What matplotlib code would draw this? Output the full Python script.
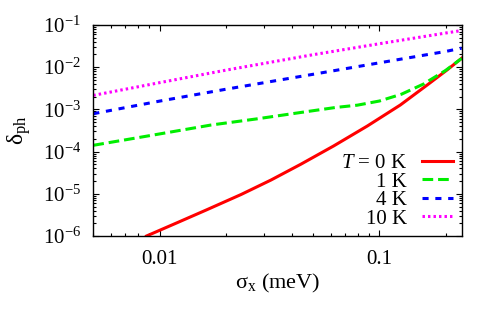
import matplotlib
matplotlib.use('Agg')
import matplotlib.pyplot as plt
from matplotlib.ticker import LogLocator, FixedLocator, NullFormatter

plt.rcParams['font.family'] = ['Liberation Serif', 'DejaVu Serif']
plt.rcParams['mathtext.fontset'] = 'custom'
plt.rcParams['mathtext.rm'] = 'Liberation Serif'
plt.rcParams['mathtext.it'] = 'Liberation Serif:italic'

# values (sigma_x in meV, delta_ph)
x_0K = [0.00873, 0.01194, 0.01631, 0.02349, 0.03213, 0.04385, 0.0619, 0.08816, 0.1244, 0.1648, 0.2029, 0.2366]
y_0K = [1.0e-6, 2.03e-6, 4.13e-6, 9.62e-6, 2.12e-5, 5.0e-5, 1.36e-4, 4.05e-4, 1.27e-3, 3.78e-3, 8.59e-3, 1.63e-2]

x_1K = [0.005, 0.0092, 0.01718, 0.02748, 0.04385, 0.0631, 0.0794, 0.1, 0.1259, 0.1585, 0.1995, 0.2366]
y_1K = [1.41e-4, 2.43e-4, 4.27e-4, 5.93e-4, 8.45e-4, 1.11e-3, 1.26e-3, 1.58e-3, 2.29e-3, 3.98e-3, 8.32e-3, 1.62e-2]

x_4K = [0.005, 0.01, 0.02, 0.05, 0.1, 0.2, 0.2366]
y_4K = [7.9e-4, 1.57e-3, 3.0e-3, 6.8e-3, 1.27e-2, 2.36e-2, 2.83e-2]

x_10K = [0.005, 0.01, 0.02, 0.05, 0.1, 0.2, 0.2366]
y_10K = [2.15e-3, 4.3e-3, 8.5e-3, 1.98e-2, 3.6e-2, 6.45e-2, 7.4e-2]

labels = [r'$T$ = 0 K', '1 K', '4 K', '10 K']
yticks = [1e-6, 1e-5, 1e-4, 1e-3, 1e-2, 1e-1]
ytick_labels = [r'$10^{-6}$', r'$10^{-5}$', r'$10^{-4}$', r'$10^{-3}$', r'$10^{-2}$', r'$10^{-1}$']
xticks = [0.01, 0.1]
xtick_labels = ['0.01', '0.1']

fig = plt.figure(figsize=(5, 3.14), dpi=100)
ax = fig.add_axes([0.1866, 0.2484, 0.7368, 0.672])

ax.plot(x_0K, y_0K, color='#ff0000', lw=2.2, ls='-', label=labels[0])
ax.plot(x_1K, y_1K, color='#00ee00', lw=2.2, ls=(0, (3.5, 1.6)), label=labels[1])
ax.plot(x_4K, y_4K, color='#0000ff', lw=2.2, ls=(0, (2.0, 2.2)), label=labels[2])
ax.plot(x_10K, y_10K, color='#ff00ff', lw=2.2, ls=(0, (0.8, 1.0)), label=labels[3])

ax.set_xscale('log')
ax.set_yscale('log')
ax.set_xlim(0.005, 0.2366)
ax.set_ylim(1e-6, 1e-1)

ax.xaxis.set_major_locator(FixedLocator(xticks))
ax.set_xticklabels(xtick_labels)
ax.xaxis.set_minor_locator(LogLocator(base=10, subs=range(2, 10), numticks=20))
ax.xaxis.set_minor_formatter(NullFormatter())
ax.yaxis.set_major_locator(FixedLocator(yticks))
ax.set_yticklabels(ytick_labels)
ax.yaxis.set_minor_locator(LogLocator(base=10, subs=range(2, 10), numticks=20))
ax.yaxis.set_minor_formatter(NullFormatter())

ax.tick_params(which='both', direction='in', top=True, right=True, labelsize=15, width=0.8)
ax.tick_params(which='major', length=4.5)
ax.tick_params(which='minor', length=2.5)
ax.tick_params(axis='x', which='major', pad=10)
ax.tick_params(axis='y', which='major', pad=9)
for s in ax.spines.values():
    s.set_linewidth(1.0)

ax.set_xlabel(r'$\mathrm{\sigma}_{\mathrm{x}}$ (meV)', fontsize=16, labelpad=2)
ax.set_ylabel(r'$\mathrm{\delta}_{\mathrm{ph}}$', fontsize=17, labelpad=7)

leg = ax.legend(loc='lower right', bbox_to_anchor=(0.906, 0.272), bbox_transform=fig.transFigure,
                frameon=False, markerfirst=False, fontsize=15, handlelength=1.5,
                handletextpad=0.7, labelspacing=-0.05, borderpad=0, borderaxespad=0)

fig.savefig('out.png', dpi=100)
